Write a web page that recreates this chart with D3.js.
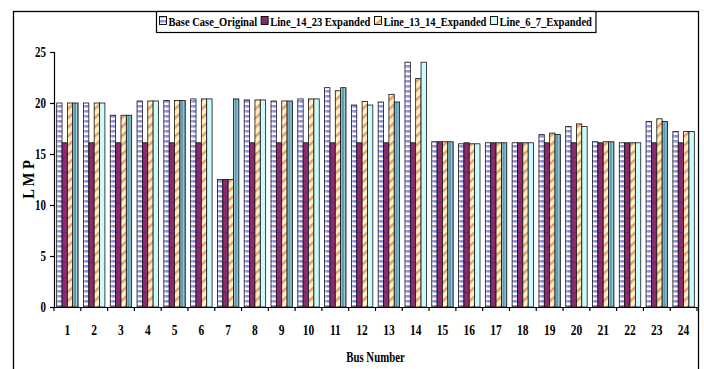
<!DOCTYPE html>
<html>
<head>
<meta charset="utf-8">
<script src="https://cdn.jsdelivr.net/npm/d3@7"></script>
<style>
  html, body { margin: 0; padding: 0; background: #fff; }
  svg { display: block; }
  text { font-family: "Liberation Serif", "Times New Roman", serif; font-weight: bold; fill: #000; }
</style>
</head>
<body>
<svg id="chart" width="704" height="369"></svg>
<script>
// Bus numbers on the x axis
const buses = d3.range(1, 25).map(String);

// Locational marginal prices per bus for each case
const baseCase   = [20.0, 20.0, 18.8, 20.2, 20.25, 20.4, 12.5, 20.3, 20.2, 20.4, 21.5, 19.8, 20.1, 24.0, 16.2, 16.0, 16.1, 16.1, 16.9, 17.7, 16.2, 16.1, 18.2, 17.2];
const line14_23  = [16.1, 16.1, 16.1, 16.1, 16.1, 16.1, 12.5, 16.1, 16.1, 16.1, 16.1, 16.1, 16.1, 16.1, 16.2, 16.1, 16.1, 16.1, 16.1, 16.1, 16.1, 16.1, 16.1, 16.1];
const line13_14  = [20.0, 20.0, 18.8, 20.2, 20.25, 20.4, 12.5, 20.3, 20.2, 20.4, 21.2, 20.15, 20.85, 22.4, 16.2, 16.0, 16.1, 16.1, 17.05, 17.95, 16.2, 16.1, 18.45, 17.2];
const line6_7    = [20.0, 20.0, 18.8, 20.2, 20.25, 20.4, 20.4, 20.3, 20.2, 20.4, 21.5, 19.8, 20.1, 24.0, 16.2, 16.0, 16.1, 16.1, 16.9, 17.7, 16.2, 16.1, 18.2, 17.2];

const seriesNames = ["Base Case_Original", "Line_14_23 Expanded", "Line_13_14_Expanded", "Line_6_7_Expanded"];
const seriesValues = [baseCase, line14_23, line13_14, line6_7];

const yTicks = [0, 5, 10, 15, 20, 25];

const svg = d3.select("#chart");
const defs = svg.append("defs");

// Fill patterns for each series
const pBase = defs.append("pattern").attr("id", "pBase").attr("patternUnits", "userSpaceOnUse")
  .attr("width", 4).attr("height", 5);
pBase.append("rect").attr("width", 4).attr("height", 5).attr("fill", "#ffffff");
pBase.append("rect").attr("width", 4).attr("height", 2.5).attr("fill", "#a3a3ee");
pBase.append("rect").attr("x", 1).attr("width", 2).attr("height", 2.5).attr("fill", "#8a8ae4");

const pPurple = defs.append("pattern").attr("id", "pPurple").attr("patternUnits", "userSpaceOnUse")
  .attr("width", 6).attr("height", 15);
pPurple.append("rect").attr("width", 6).attr("height", 15).attr("fill", "#8c2b6c");
pPurple.append("rect").attr("y", 7).attr("width", 6).attr("height", 1.2).attr("fill", "#3b2a86").attr("opacity", 0.55);

const pYellow = defs.append("pattern").attr("id", "pYellow").attr("patternUnits", "userSpaceOnUse")
  .attr("width", 7).attr("height", 7).attr("patternTransform", "rotate(-40)");
pYellow.append("rect").attr("width", 7).attr("height", 7).attr("fill", "#fff6c4");
pYellow.append("rect").attr("width", 7).attr("height", 2.6).attr("fill", "#ef9a78");

const pCyanDark = defs.append("pattern").attr("id", "pCyanDark").attr("patternUnits", "userSpaceOnUse")
  .attr("width", 3).attr("height", 4);
pCyanDark.append("rect").attr("width", 3).attr("height", 4).attr("fill", "#5f97ad");
pCyanDark.append("rect").attr("x", 1).attr("width", 1).attr("height", 4).attr("fill", "#9cd0dc");

const pCyanLight = defs.append("pattern").attr("id", "pCyanLight").attr("patternUnits", "userSpaceOnUse")
  .attr("width", 6).attr("height", 4);
pCyanLight.append("rect").attr("width", 6).attr("height", 4).attr("fill", "#ccfbff");

const fills = [
  () => "url(#pBase)",
  () => "url(#pPurple)",
  () => "url(#pYellow)",
  (i) => (i % 2 === 0 ? "url(#pCyanDark)" : "url(#pCyanLight)")
];
const legendFills = ["url(#pBase)", "url(#pPurple)", "url(#pYellow)", "url(#pCyanLight)"];

// Squeeze text horizontally to a narrow bold serif look; returns the new width
function narrow(sel, factor) {
  let w = 0;
  sel.each(function () {
    const natural = this.getComputedTextLength();
    w = natural * factor;
    d3.select(this).attr("textLength", w).attr("lengthAdjust", "spacingAndGlyphs");
  });
  return w;
}

// Outer frame
svg.append("rect").attr("x", 13.5).attr("y", 11.5).attr("width", 685).attr("height", 400)
  .attr("fill", "none").attr("stroke", "#000").attr("stroke-width", 1.3);

// Plot geometry
const plotLeft = 54, plotRight = 697, plotTop = 52, plotBottom = 307;

const x = d3.scaleBand().domain(buses).range([plotLeft, plotRight]).padding(0);
const xs = d3.scaleBand().domain(d3.range(seriesNames.length)).range([0, x.bandwidth()])
  .paddingInner(0).paddingOuter(0.5);
const y = d3.scaleLinear().domain([0, 25]).range([plotBottom, plotTop]);

// Bars
const groups = svg.append("g").selectAll("g").data(buses).join("g")
  .attr("transform", d => `translate(${x(d)},0)`);
groups.selectAll("rect")
  .data((d, i) => seriesValues.map((vals, s) => ({ s, i, v: vals[i] })))
  .join("rect")
  .attr("x", d => xs(d.s))
  .attr("y", d => y(d.v))
  .attr("width", xs.bandwidth())
  .attr("height", d => y(0) - y(d.v))
  .attr("fill", d => fills[d.s](d.i))
  .attr("stroke", "#111")
  .attr("stroke-width", 0.8);

// Y axis
const yAxis = svg.append("g").attr("transform", `translate(${plotLeft},0)`)
  .call(d3.axisLeft(y).tickValues(yTicks).tickSize(4).tickPadding(4).tickFormat(d3.format("d")));
yAxis.select(".domain").attr("stroke", "#000").attr("stroke-width", 1.2);
yAxis.selectAll(".tick line").attr("stroke", "#000").attr("stroke-width", 1.2);
yAxis.selectAll(".tick text").style("font-family", "Liberation Serif").style("font-weight", "bold")
  .style("font-size", "14px").attr("fill", "#000")
  .each(function () { narrow(d3.select(this), 0.78); });

// X axis: line, boundary ticks, centered labels
const xAxis = svg.append("g").attr("transform", `translate(0,${plotBottom})`)
  .call(d3.axisBottom(x).tickSize(0).tickPadding(18));
xAxis.select(".domain").attr("stroke", "#000").attr("stroke-width", 1.2);
xAxis.selectAll(".tick text").style("font-family", "Liberation Serif").style("font-weight", "bold")
  .style("font-size", "14px").attr("fill", "#000")
  .each(function () { narrow(d3.select(this), 0.82); });
const boundaries = buses.map(b => x(b)).concat([x(buses[buses.length - 1]) + x.bandwidth()]);
xAxis.selectAll("line.boundary").data(boundaries).join("line").attr("class", "boundary")
  .attr("x1", d => d).attr("x2", d => d).attr("y1", 0).attr("y2", 4)
  .attr("stroke", "#000").attr("stroke-width", 1.2);

// Axis titles
narrow(svg.append("text").attr("x", (plotLeft + plotRight) / 2).attr("y", 362).attr("text-anchor", "middle")
  .style("font-size", "15px").text("Bus Number"), 0.72);
narrow(svg.append("text").attr("transform", `translate(34,${(plotTop + plotBottom) / 2}) rotate(-90)`)
  .attr("text-anchor", "middle").style("font-size", "16px").text("L M P"), 0.9);

// Legend
const legend = svg.append("g");
const legendBox = legend.append("rect").attr("fill", "#fff").attr("stroke", "#000").attr("stroke-width", 1.2);
let lx = 159;
const ly = 22;
seriesNames.forEach((name, i) => {
  legend.append("rect").attr("x", lx + 0.5).attr("y", ly - 5.5).attr("width", 7).attr("height", 8)
    .attr("fill", legendFills[i]).attr("stroke", "#000").attr("stroke-width", 0.9);
  const t = legend.append("text").attr("x", lx + 9.5).attr("y", ly + 3.5).style("font-size", "13px").text(name);
  const w = narrow(t, 0.81);
  lx += 9.5 + w + 3.5;
});
legendBox.attr("x", 156.5).attr("y", 11.5).attr("width", lx - 156).attr("height", 21);
</script>
</body>
</html>
